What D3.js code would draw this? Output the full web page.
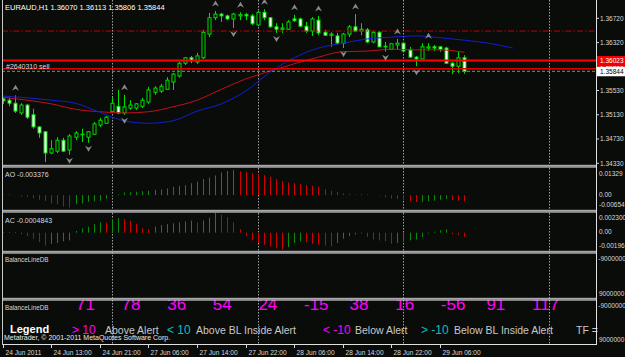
<!DOCTYPE html>
<html>
<head>
<meta charset="utf-8">
<script src="https://cdn.jsdelivr.net/npm/d3@7.9.0/dist/d3.min.js"></script>
<style>
  html, body { margin: 0; padding: 0; background: #0a0c0a; overflow: hidden; }
  svg { display: block; font-family: "Liberation Sans", Arial, sans-serif; }
</style>
</head>
<body>
<svg id="chart" width="625" height="357"></svg>
<script>
// ---------- data ----------
const openP = [1.3539,1.3537,1.3532,1.3516,1.3529,1.3513,1.3493,1.3485,1.3450,1.3453,1.3471,1.3455,1.3476,1.3480,1.3476,1.3481,1.3496,1.3499,1.3518,1.3527,
  1.3516,1.3524,1.3524,1.3527,1.3534,1.3550,1.3552,1.3555,1.3567,1.3577,1.3598,1.3607,1.3600,1.3607,1.3646,1.3673,1.3679,1.3676,1.3671,1.3676,
  1.3678,1.3676,1.3661,1.3682,1.3673,1.3658,1.3654,1.3654,1.3671,1.3671,1.3659,1.3651,1.3669,1.3649,1.3644,1.3643,1.3631,1.3646,1.3658,1.3651,
  1.3653,1.3633,1.3649,1.3625,1.3621,1.3628,1.3631,1.3620,1.3608,1.3605,1.3623,1.3625,1.3625,1.3623,1.3598,1.3593,1.36070];
const highP = [1.3542,1.3541,1.3545,1.3532,1.3531,1.3523,1.3494,1.3486,1.3471,1.3476,1.3475,1.3481,1.3486,1.3490,1.3486,1.3501,1.3508,1.3511,1.3542,1.3554,
  1.3546,1.3537,1.3532,1.3541,1.3559,1.3560,1.3564,1.3575,1.3582,1.3600,1.3608,1.3610,1.3615,1.3653,1.3681,1.3684,1.3681,1.3678,1.3681,1.3682,
  1.3681,1.3679,1.3684,1.3687,1.3674,1.3664,1.3664,1.3669,1.3678,1.3673,1.3666,1.3674,1.3676,1.3653,1.3649,1.3648,1.3648,1.3661,1.3679,1.3664,
  1.3656,1.3651,1.3651,1.3633,1.3631,1.3638,1.3633,1.3625,1.3610,1.3631,1.3631,1.3628,1.3626,1.3625,1.3600,1.3618,1.36113];
const lowP = [1.3531,1.3527,1.3516,1.3513,1.3506,1.3490,1.3475,1.3435,1.3448,1.3450,1.3452,1.3447,1.3471,1.3468,1.3467,1.3480,1.3493,1.3498,1.3516,1.3514,
  1.3513,1.3521,1.3521,1.3524,1.3531,1.3546,1.3549,1.3554,1.3554,1.3574,1.3595,1.3598,1.3597,1.3605,1.3641,1.3669,1.3666,1.3669,1.3656,1.3669,
  1.3669,1.3661,1.3659,1.3669,1.3656,1.3648,1.3648,1.3653,1.3666,1.3658,1.3648,1.3643,1.3644,1.3643,1.3625,1.3628,1.3623,1.3641,1.3649,1.3644,
  1.3631,1.3631,1.3625,1.3617,1.3620,1.3620,1.3617,1.3607,1.3593,1.3605,1.3618,1.3618,1.3617,1.3597,1.3580,1.3582,1.35806];
const closeP = [1.3536,1.3532,1.3519,1.3529,1.3509,1.3493,1.3483,1.3450,1.3457,1.3471,1.3453,1.3478,1.3483,1.3481,1.3485,1.3498,1.3504,1.3509,1.3532,1.3516,
  1.3526,1.3529,1.3531,1.3537,1.3554,1.3557,1.3560,1.3570,1.3580,1.3598,1.3607,1.3602,1.3610,1.3649,1.3673,1.3679,1.3676,1.3671,1.3679,1.3678,
  1.3676,1.3663,1.3682,1.3673,1.3658,1.3654,1.3656,1.3666,1.3668,1.3659,1.3651,1.3671,1.3648,1.3644,1.3646,1.3631,1.3646,1.3658,1.3651,1.3654,
  1.3633,1.3649,1.3625,1.3626,1.3630,1.3631,1.3618,1.3608,1.3605,1.3625,1.3625,1.3623,1.3621,1.3598,1.3593,1.3607,1.35844];

// moving averages (bar index, price)
const redIdx  = [0,4,8,12,16,20,24,28,32,36,40,44,48,52,56,60,64,68,72,76];
const redMA   = [1.3542,1.3537,1.3531,1.3522,1.3518,1.3516,1.3518,1.3526,1.3537,1.3555,1.3572,1.3585,1.3597,1.3608,1.3617,1.3618,1.3621,1.3620,1.3620,1.3616];
const blueIdx = [0,4,8,12,16,20,24,28,32,36,40,44,48,52,56,60,64,68,72,76,80,84];
const blueMA  = [1.3544,1.3541,1.3537,1.3532,1.3517,1.3503,1.3499,1.3503,1.3519,1.3531,1.3552,1.3583,1.3607,1.3623,1.3631,1.3638,1.3641,1.3643,1.3640,1.3636,1.3631,1.3623];

// fractals (bar indices)
const fractalUp   = [2,20,35,39,43,48,52,58,65,70];
const fractalDown = [7,11,14,20,38,45,56,63,68];

// horizontal levels
const dashDotLevel = 1.3651;
const stopLevel = 1.36023;
const orderLevel = 1.35889;
const bidLevel = 1.35844;

// oscillators
const aoValues = [0.0002,0.0003,0.0001,-0.0007,-0.0009,-0.0016,-0.0025,-0.0030,-0.0044,-0.0048,-0.0060,-0.00654,-0.0048,-0.0044,-0.0035,-0.0033,-0.0030,-0.0018,-0.0006,0.0004,
  0.0014,0.0016,0.0018,0.0021,0.0023,0.0028,0.0029,0.0035,0.0044,0.0049,0.0053,0.0063,0.0071,0.0085,0.0093,0.0104,0.0120,0.0127,0.01329,0.0127,
  0.0123,0.0116,0.0111,0.0106,0.0097,0.0085,0.0074,0.0067,0.0063,0.0058,0.0053,0.0049,0.0044,0.0032,0.0023,0.0016,0.0009,0.0005,0.0003,0.0004,
  0.0003,0.0002,-0.0003,-0.0012,-0.0018,-0.0021,-0.0028,-0.0033,-0.0037,-0.0035,-0.0032,-0.0030,-0.0025,-0.0021,-0.0026,-0.0030,-0.003376];
const acValues = [0.0000,0.0000,0.0001,-0.0002,-0.0004,-0.0007,-0.0011,-0.0015,-0.0013,-0.0012,-0.0010,-0.0009,0.0002,0.0005,0.0007,0.0010,0.0012,0.00118,0.0016,0.0017,
  0.0016,0.0014,0.0010,0.0005,0.0004,0.0007,0.0009,0.0010,0.0011,0.0012,0.0013,0.0014,0.0012,0.00144,0.00175,0.0023,0.0021,0.0018,0.0012,0.0004,
  -0.0004,-0.0009,-0.0012,-0.0014,-0.0016,-0.0018,-0.00196,-0.0017,-0.0012,-0.0010,-0.0011,-0.0013,-0.0014,-0.0015,-0.0016,-0.0012,-0.0007,-0.0004,-0.0002,-0.0001,
  -0.0005,-0.0008,-0.0009,-0.0010,-0.0013,-0.0012,-0.0011,-0.0009,-0.0008,-0.0005,-0.0001,0.0000,0.0003,0.0004,-0.0002,-0.00025,-0.0004843];

// axis labels
const priceTicks = [1.36720, 1.36320, 1.35530, 1.35130, 1.34730, 1.34330];
const aoTicks = [0.01329, 0, -0.00654];
const aoTickText = ['0.01329', '0.00', '-0.00654'];
const acTicks = [0.0023, 0, -0.00196];
const acTickText = ['0.002300', '0.00', '-0.00196'];
const timeBars = [0, 8, 16, 24, 32, 40, 48, 56, 64, 72];
const timeLabels = ['24 Jun 2011','24 Jun 13:00','24 Jun 21:00','27 Jun 06:00','27 Jun 14:00','27 Jun 22:00','28 Jun 06:00','28 Jun 14:00','28 Jun 22:00','29 Jun 06:00'];
const gridBars = [18, 42, 66, 90];

// BalanceLineDB readings
const tfValues = [71, 78, 36, 54, 24, -15, 38, 16, -56, 91, 117];
const legendItems = [
  {t: 'Legend', x: 10, c: '#ffffff', s: 11, w: 'bold'},
  {t: '> 10', x: 72, c: '#ff00ff', s: 12},
  {t: 'Above Alert', x: 105, c: '#c8c8c8', s: 10.5},
  {t: '< 10', x: 167, c: '#00c0c0', s: 12},
  {t: 'Above BL Inside Alert', x: 196, c: '#c8c8c8', s: 10.5},
  {t: '< -10', x: 323, c: '#ff00ff', s: 12},
  {t: 'Below Alert', x: 355, c: '#c8c8c8', s: 10.5},
  {t: '> -10', x: 421, c: '#00c0c0', s: 12},
  {t: 'Below BL Inside Alert', x: 454, c: '#c8c8c8', s: 10.5},
  {t: 'TF =', x: 576, c: '#c8c8c8', s: 10.5}
];

// ---------- layout ----------
const W = 625, H = 357, L = 2, R = 596;
const panes = {
  main: [0, 165], ao: [167, 210], ac: [212, 251], bl1: [253, 298], bl2: [300, 344]
};
const txt = '#d8d8d8';
const lime = '#00e000';

const svg = d3.select('#chart');
svg.append('rect').attr('width', W).attr('height', H).attr('fill', '#0a0c0a');

const defs = svg.append('defs');
Object.entries(panes).forEach(([k, [t, b]]) => {
  defs.append('clipPath').attr('id', 'clip-' + k)
    .append('rect').attr('x', L).attr('y', t).attr('width', R - L).attr('height', b - t);
});

const x = d3.scaleLinear().domain([0, 97.7]).range([2.7, 596]);
const bx = i => Math.round(x(i)) + 0.5;
const yMain = d3.scaleLinear().domain([1.34302, 1.37022]).range([165, 0]);
const yAO = d3.scaleLinear().domain([-0.00654, 0.01329]).range([207.5, 170]);
const yAC = d3.scaleLinear().domain([-0.00196, 0.0023]).range([249.5, 213]);

// grid (vertical dotted)
svg.append('g').selectAll('line').data(gridBars).join('line')
  .attr('x1', d => bx(d)).attr('x2', d => bx(d))
  .attr('y1', 0).attr('y2', 344)
  .attr('stroke', '#a0a0a0').attr('stroke-dasharray', '1.5,1.5');

// ---------- main pane ----------
const main = svg.append('g').attr('clip-path', 'url(#clip-main)');

const bars = d3.range(openP.length).map(i => ({i, o: openP[i], h: highP[i], l: lowP[i], c: closeP[i]}));

main.append('g').selectAll('line').data(bars).join('line')
  .attr('x1', d => bx(d.i)).attr('x2', d => bx(d.i))
  .attr('y1', d => yMain(d.h)).attr('y2', d => yMain(d.l))
  .attr('stroke', lime).attr('stroke-width', 1);

main.append('g').selectAll('rect').data(bars).join('rect')
  .attr('x', d => bx(d.i) - 1.5).attr('width', 3)
  .attr('y', d => yMain(Math.max(d.o, d.c)))
  .attr('height', d => Math.max(0.6, Math.abs(yMain(d.o) - yMain(d.c))))
  .attr('fill', d => d.c > d.o ? '#000000' : '#ffffff')
  .attr('stroke', lime).attr('stroke-width', 1);

// moving averages
const maLine = d3.line().x(d => x(d[0])).y(d => yMain(d[1])).curve(d3.curveMonotoneX);
main.append('path').attr('d', maLine(d3.zip(redIdx, redMA)))
  .attr('fill', 'none').attr('stroke', '#c0101c').attr('stroke-width', 1);
main.append('path').attr('d', maLine(d3.zip(blueIdx, blueMA)))
  .attr('fill', 'none').attr('stroke', '#1020d0').attr('stroke-width', 1);

// horizontal levels
main.append('line').attr('x1', L).attr('x2', R)
  .attr('y1', yMain(dashDotLevel)).attr('y2', yMain(dashDotLevel))
  .attr('stroke', '#c00000').attr('stroke-dasharray', '6,2,1.5,2');
main.append('line').attr('x1', L).attr('x2', R)
  .attr('y1', yMain(bidLevel)).attr('y2', yMain(bidLevel))
  .attr('stroke', '#4a8a4a').attr('stroke-width', 1.2).attr('stroke-dasharray', '3,2');
main.append('line').attr('x1', L).attr('x2', R)
  .attr('y1', yMain(orderLevel)).attr('y2', yMain(orderLevel))
  .attr('stroke', '#e00000').attr('stroke-width', 1.5);
main.append('line').attr('x1', L).attr('x2', R)
  .attr('y1', yMain(stopLevel)).attr('y2', yMain(stopLevel))
  .attr('stroke', '#ff0000').attr('stroke-width', 2);

// fractal arrows
main.append('g').selectAll('path').data(fractalUp).join('path')
  .attr('transform', i => `translate(${bx(i)},${yMain(highP[i]) - 7.5})`)
  .attr('d', 'M-3.5,3L0,-3L3.5,3L0,1Z').attr('fill', '#8a8a8a');
main.append('g').selectAll('path').data(fractalDown).join('path')
  .attr('transform', i => `translate(${bx(i)},${yMain(lowP[i]) + 6})`)
  .attr('d', 'M-3.5,-3L0,3L3.5,-3L0,-1Z').attr('fill', '#8a8a8a');

// texts in main pane
svg.append('text').attr('x', 5).attr('y', 10).attr('font-size', 7.5).attr('fill', '#ffffff')
  .text('EURAUD,H1  1.36070 1.36113 1.35806 1.35844');
svg.append('text').attr('x', 6).attr('y', yMain(orderLevel) + 0.5).attr('font-size', 7).attr('fill', '#d8d8d8')
  .text('#2640310 sell');

// ---------- AO / AC panes ----------
function histo(vals, ys, clip) {
  const g = svg.append('g').attr('clip-path', `url(#clip-${clip})`);
  g.selectAll('line').data(vals).join('line')
    .attr('x1', (d, i) => bx(i)).attr('x2', (d, i) => bx(i))
    .attr('y1', ys(0)).attr('y2', d => ys(d) === ys(0) ? ys(0) - 0.6 : ys(d))
    .attr('stroke', (d, i) => (i === 0 || d >= vals[i - 1]) ? '#0c8a0c' : '#d00000')
    .attr('stroke-width', 1);
}
histo(aoValues, yAO, 'ao');
histo(acValues, yAC, 'ac');

svg.append('text').attr('x', 5).attr('y', 177).attr('font-size', 7).attr('fill', txt)
  .text('AO ' + aoValues[aoValues.length - 1]);
svg.append('text').attr('x', 5).attr('y', 222.5).attr('font-size', 7).attr('fill', txt)
  .text('AC ' + acValues[acValues.length - 1]);
svg.append('text').attr('x', 5).attr('y', 262.3).attr('font-size', 6.3).attr('fill', txt).text('BalanceLineDB');
svg.append('text').attr('x', 5).attr('y', 310).attr('font-size', 6.3).attr('fill', txt).text('BalanceLineDB');

// BalanceLineDB readings
const bl2 = svg.append('g').attr('clip-path', 'url(#clip-bl2)');
const tfX = d3.scaleLinear().domain([0, 1]).range([76, 121.6]);
bl2.selectAll('text').data(tfValues).join('text')
  .attr('x', (d, i) => tfX(i)).attr('y', 310)
  .attr('font-size', 17).attr('fill', '#ff00ff')
  .text(d => d);

svg.append('g').selectAll('text').data(legendItems).join('text')
  .attr('x', d => d.x).attr('y', d => d.w ? 333 : 334)
  .attr('font-size', d => d.s).attr('font-weight', d => d.w || 'normal')
  .attr('fill', d => d.c).text(d => d.t);
svg.append('text').attr('x', 4).attr('y', 339.5).attr('font-size', 7).attr('fill', '#e8e8e8')
  .text('Metatrader, \u00a9 2001-2011 MetaQuotes Software Corp.');

// ---------- frames ----------
[166, 211, 252, 299].forEach(y => {
  svg.append('rect').attr('x', L).attr('y', y - 1.2).attr('width', R - L).attr('height', 2).attr('fill', '#a8a8a8');
  svg.append('line').attr('x1', L).attr('x2', R).attr('y1', y + 1.3).attr('y2', y + 1.3)
    .attr('stroke', '#d8d8d8').attr('stroke-width', 0.7);
});
svg.append('line').attr('x1', L).attr('x2', R + 1).attr('y1', 344.5).attr('y2', 344.5).attr('stroke', '#e0e0e0');
svg.append('line').attr('x1', R + 0.5).attr('x2', R + 0.5).attr('y1', 0).attr('y2', 345).attr('stroke', '#e0e0e0');
svg.append('line').attr('x1', L + 0.5).attr('x2', L + 0.5).attr('y1', 0).attr('y2', 345).attr('stroke', '#c8c8c8');

// ---------- right axis ----------
const axis = svg.append('g').attr('font-size', 6.5).attr('fill', txt);
axis.selectAll('text.p').data(priceTicks).join('text')
  .attr('x', 600).attr('y', d => yMain(d) + 2.4).text(d => d.toFixed(5));
axis.selectAll('line.p').data(priceTicks).join('line')
  .attr('x1', R).attr('x2', R + 3).attr('y1', d => yMain(d)).attr('y2', d => yMain(d)).attr('stroke', txt);

const aoDy = [6, 2.3, -1];
axis.selectAll('text.ao').data(aoTicks).join('text')
  .attr('x', 599).attr('y', (d, i) => yAO(d) + aoDy[i]).text((d, i) => aoTickText[i]);
const acDy = [7, 1.5, -1.2];
axis.selectAll('text.ac').data(acTicks).join('text')
  .attr('x', 599).attr('y', (d, i) => yAC(d) + acDy[i]).text((d, i) => acTickText[i]);
[[261, '-9000000'], [295.7, '9000000'], [308.3, '-9000000'], [342.3, '9000000']].forEach(([y, t]) => {
  axis.append('text').attr('x', t[0] === '-' ? 598.3 : 599).attr('y', y).text(t);
});

// price labels
function priceBox(p, bg, fg) {
  const y = yMain(p);
  svg.append('rect').attr('x', 597).attr('y', y - 4.6).attr('width', 30).attr('height', 9.4).attr('fill', bg);
  svg.append('text').attr('x', 600).attr('y', y + 2.4).attr('font-size', 6.5).attr('fill', fg).text(p.toFixed(5));
}
priceBox(orderLevel, '#e00000', '#ffffff');
priceBox(stopLevel, '#f00000', '#ffffff');
priceBox(bidLevel, '#ffffff', '#000000');

// ---------- time axis ----------
const tAxis = svg.append('g');
tAxis.selectAll('line').data(timeBars).join('line')
  .attr('x1', d => bx(d)).attr('x2', d => bx(d)).attr('y1', 344).attr('y2', 348).attr('stroke', txt);
tAxis.selectAll('text').data(timeBars).join('text')
  .attr('x', d => bx(d) + 2).attr('y', 355).attr('font-size', 6.6).attr('fill', txt)
  .text((d, i) => timeLabels[i]);
</script>
</body>
</html>
